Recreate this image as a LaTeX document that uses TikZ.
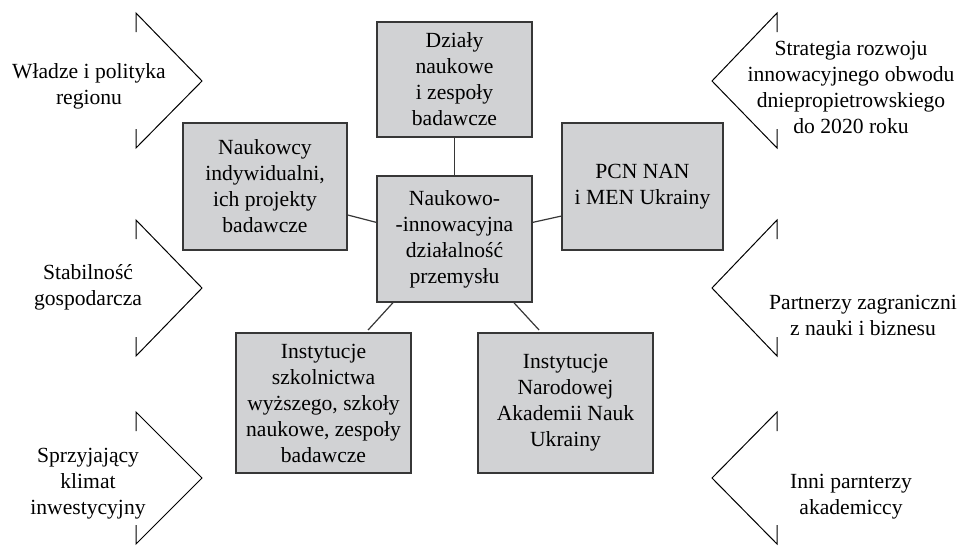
\documentclass[tikz,border=0pt]{standalone}
\usepackage{fontspec}
\setmainfont{Liberation Serif}
\definecolor{boxgray}{RGB}{209,210,212}
\definecolor{boxline}{RGB}{55,55,55}
\begin{document}
\begin{tikzpicture}[x=0.5pt,y=-0.5pt,
      blok/.style={draw=boxline,fill=boxgray,line width=0.75pt,inner sep=0pt,align=center,
        font=\fontsize{10.8}{13}\selectfont},
      opis/.style={align=center,inner sep=0pt,font=\fontsize{10.8}{13}\selectfont},
      lacznik/.style={draw=boxline,line width=0.6pt},
      klin/.style={draw=black,line width=0.5pt}]
      \useasboundingbox (0,0) rectangle (957,546);

      \node[blok,minimum width=77.5pt,minimum height=57.5pt] (dzialy) at (454.5,79.5)
        {Działy\\naukowe\\i zespoły\\badawcze};
      \node[blok,minimum width=82pt,minimum height=63.5pt] (naukowcy) at (265,186.5)
        {Naukowcy\\indywidualni,\\ich projekty\\badawcze};
      \node[blok,minimum width=77.5pt,minimum height=63pt] (srodek) at (454.5,239)
        {Naukowo-\\-innowacyjna\\działalność\\przemysłu};
      \node[blok,minimum width=80.5pt,minimum height=63.5pt] (pcn) at (642.5,186.5)
        {PCN NAN\\i MEN Ukrainy};
      \node[blok,minimum width=87.5pt,minimum height=70pt] (szkol) at (323.5,403)
        {Instytucje\\szkolnictwa\\wyższego, szkoły\\naukowe, zespoły\\badawcze};
      \node[blok,minimum width=87.5pt,minimum height=70pt] (nan) at (565.5,403)
        {Instytucje\\Narodowej\\Akademii Nauk\\Ukrainy};

      \draw[lacznik] (dzialy) -- (srodek);
      \draw[lacznik] (naukowcy.-19) -- (srodek.168);
      \draw[lacznik] (srodek.12) -- (pcn.200);
      \draw[lacznik,shorten >=1.5pt] (srodek.-134) -- (szkol.59);
      \draw[lacznik,shorten >=1.5pt] (srodek.-47) -- (nan.109);

      \draw[klin] (136,32) -- (136,13) -- (202,81) -- (136,148) -- (136,129);
      \draw[klin] (136,239) -- (136,220) -- (202,288) -- (136,356) -- (136,337);
      \draw[klin] (136,431) -- (136,412) -- (202,478) -- (136,544) -- (136,525);
      \draw[klin] (777,32) -- (777,13) -- (712,81) -- (777,148) -- (777,129);
      \draw[klin] (777,239) -- (777,220) -- (712,288) -- (777,356) -- (777,337);
      \draw[klin] (777,431) -- (777,412) -- (712,478) -- (777,544) -- (777,525);

      \node[opis] (wladze) at (89,86) {Władze i polityka\\regionu};
      \node[opis] (stabilnosc) at (88,287) {Stabilność\\gospodarcza};
      \node[opis] (klimat) at (88,484) {Sprzyjający\\klimat\\inwestycyjny};
      \node[opis] (strategia) at (851,87)
        {Strategia rozwoju\\innowacyjnego obwodu\\dniepropietrowskiego\\do 2020 roku};
      \node[opis] (partnerzy) at (863,315) {Partnerzy zagraniczni\\z nauki i biznesu};
      \node[opis] (inni) at (851,497) {Inni parnterzy\\akademiccy};
\end{tikzpicture}
\end{document}
